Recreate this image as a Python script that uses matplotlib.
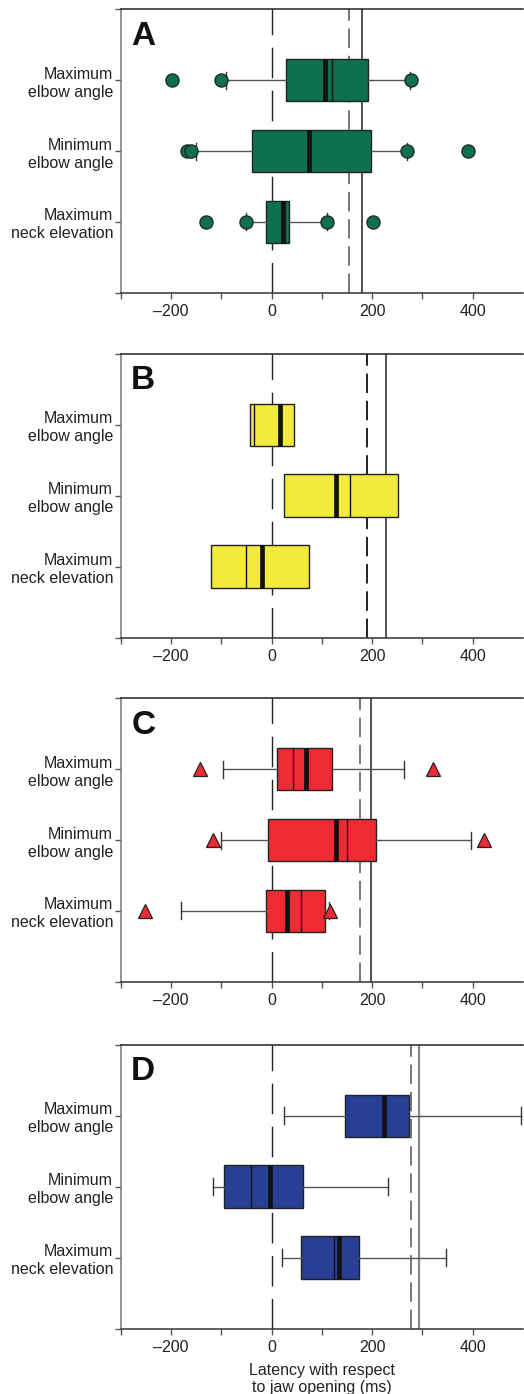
import matplotlib
matplotlib.use("Agg")
import matplotlib.pyplot as plt
from matplotlib.ticker import FixedLocator

# ───────── Plot Settings ─────────────────────────────────────────────
plt.rcParams['font.family'] = ['Liberation Sans', 'DejaVu Sans']
TICK_FONTSIZE   = 11.5
LABEL_FONTSIZE  = 11.5
PANEL_FONTSIZE  = 24

FIG_W, FIG_H = 524, 1394
DPI = 100

# ───────── Data ──────────────────────────────────────────────────────
categories = ['Maximum\nelbow angle', 'Minimum\nelbow angle', 'Maximum\nneck elevation']
panels     = ['A', 'B', 'C', 'D']
colors     = ['#0f7050', '#f2ea3c', '#ee2b33', '#283f96']
markers    = ['o', None, '^', None]

# per panel, one value per category (top to bottom)
q1   = [[29, -38, -12], [-42, 25, -121], [11, -8, -12], [147, -94, 59]]
med  = [[106, 75, 22], [17, 129, -19], [68, 129, 31], [224, -3, 134]]
q3   = [[192, 197, 35], [45, 252, 75], [120, 207, 107], [274, 63, 173]]
mean = [[121, 75, 25], [-35, 155, -50], [42, 151, 58], [224, -40, 124]]
whislo = [[-90, -150, -50], [-42, 25, -121], [-97, -100, -181], [25, -116, 21]]
whishi = [[275, 270, 110], [45, 252, 75], [264, 397, 114], [497, 232, 347]]
fliers = [
    [[-197, -101, 277], [-168, -161, 270, 391], [-131, -50, 110, 201]],
    [[], [], []],
    [[-142, 321], [-116, 422], [-252, 116]],
    [[], [], []],
]

# reference lines: (dashed, solid)
ref_dashed = [153, 189, 175, 277]
ref_solid  = [180, 227, 197, 294]
dash_color  = ['#777777', '#222222', '#777777', '#777777']
solid_color = ['#222222', '#222222', '#222222', '#888888']

major_ticks = [-200, 0, 200, 400]
minor_ticks = [-300, -100, 100, 300]

# axes placement in pixels (top edge of each panel)
AX_LEFT_PX, AX_RIGHT_PX = 120.7, 523.0
AX_TOPS_PX = [9.3, 354.0, 698.3, 1045.0]
AX_H_PX = 283.5


def draw_panel(ax, i):
    stats = []
    for k, cat in enumerate(categories):
        stats.append(dict(label=cat, q1=q1[i][k], med=med[i][k], q3=q3[i][k],
                          mean=mean[i][k], whislo=whislo[i][k], whishi=whishi[i][k],
                          fliers=fliers[i][k]))

    has_whisk = i != 1
    ax.axvline(0, color='#222222', lw=1, dashes=(22, 9), zorder=1)
    ax.axvline(ref_dashed[i], color=dash_color[i], lw=1.4, dashes=(10, 4), zorder=1)
    ax.axvline(ref_solid[i], color=solid_color[i],
               lw=1.6 if i == 3 else 1.1, zorder=1)

    ax.bxp(stats, positions=[3, 2, 1], widths=0.6, orientation='horizontal',
           patch_artist=True, showmeans=True, meanline=True,
           showcaps=has_whisk, capwidths=0.24,
           showfliers=markers[i] is not None,
           boxprops=dict(facecolor=colors[i], edgecolor='#222222', linewidth=1),
           medianprops=dict(color='#111111', linewidth=3.4, solid_capstyle='butt'),
           meanprops=dict(color='#111111', linestyle='-', linewidth=1),
           whiskerprops=dict(color='#555555', linewidth=1),
           capprops=dict(color='#333333', linewidth=1),
           flierprops=dict(marker=markers[i] or 'o', markerfacecolor=colors[i],
                           markeredgecolor='#222222', markeredgewidth=0.9,
                           markersize=9.5, linestyle='none'),
           zorder=3)

    ax.set_xlim(-300, 500)
    ax.set_ylim(0, 4)
    ax.set_yticks([0, 1, 2, 3, 4])
    ax.set_yticklabels(['', categories[2], categories[1], categories[0], ''],
                       fontsize=TICK_FONTSIZE, color='#222222', linespacing=1.25)
    ax.xaxis.set_major_locator(FixedLocator(major_ticks))
    ax.xaxis.set_minor_locator(FixedLocator(minor_ticks))
    ax.set_xticklabels([f'{t}'.replace('-', '\u2013') for t in major_ticks],
                       fontsize=TICK_FONTSIZE, color='#222222')
    ax.tick_params(axis='both', which='both', direction='out', length=4,
                   width=1, color='#555555', pad=4)
    ax.tick_params(axis='y', pad=1.5)

    ax.spines['right'].set_visible(False)
    ax.spines['top'].set_color('#222222')
    ax.spines['left'].set_color('#777777')
    ax.spines['bottom'].set_color('#333333')
    for s in ax.spines.values():
        s.set_linewidth(1.1)

    ax.text(0.026, 0.96, panels[i], transform=ax.transAxes, fontsize=PANEL_FONTSIZE,
            fontweight='bold', color='#111111', ha='left', va='top')


def main():
    fig = plt.figure(figsize=(FIG_W / DPI, FIG_H / DPI), dpi=DPI)
    for i in range(4):
        left = AX_LEFT_PX / FIG_W
        width = (AX_RIGHT_PX - AX_LEFT_PX) / FIG_W
        bottom = 1 - (AX_TOPS_PX[i] + AX_H_PX) / FIG_H
        ax = fig.add_axes([left, bottom, width, AX_H_PX / FIG_H])
        draw_panel(ax, i)
        if i == 3:
            ax.set_xlabel('Latency with respect\nto jaw opening (ms)',
                          fontsize=LABEL_FONTSIZE, color='#222222', labelpad=6,
                          linespacing=1.2)
    fig.savefig('out.png', dpi=DPI)


if __name__ == "__main__":
    main()
